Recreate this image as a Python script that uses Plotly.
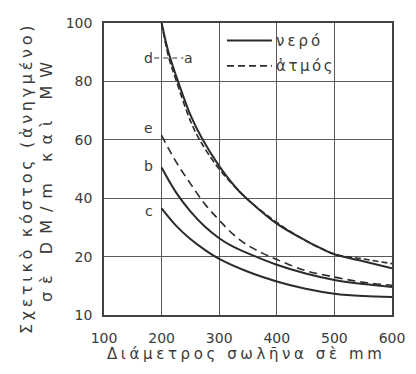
import plotly.graph_objects as go

# ---- data ----
x_d = [200, 212, 225, 250, 270, 300, 335, 350, 400, 450, 478, 500, 550, 600]
y_d = [100, 90, 82, 68.5, 60.5, 51, 42.3, 39.5, 31.3, 25.5, 22.7, 20.8, 19.2, 18.0]

x_a = [200, 212, 225, 250, 266, 300, 350, 400, 450, 500, 550, 600]
y_a = [100, 88.5, 80.5, 66.5, 60, 50, 39.5, 31.7, 25.5, 20.9, 19.6, 18.8]

x_e = [200, 225, 250, 275, 300, 325, 350, 375, 400, 450, 500, 550, 600]
y_e = [61.5, 52.5, 45, 38, 32.5, 27.5, 23.8, 21.2, 19.5, 17.6, 16.5, 15.6, 15.1]

x_b = [200, 225, 250, 275, 300, 325, 350, 400, 450, 500, 550, 600]
y_b = [50.5, 42, 35.5, 30.3, 26.3, 23.3, 21.1, 18.6, 17.1, 16, 15.3, 14.8]

x_c = [200, 225, 250, 275, 300, 350, 400, 450, 500, 550, 600]
y_c = [36.5, 30.6, 26, 22.3, 19.6, 17.4, 15.75, 14.5, 13.65, 13.25, 13.1]

x_ticks = [100, 200, 300, 400, 500, 600]
y_ticks = [10, 20, 40, 60, 80, 100]

curve_labels = ["d", "a", "e", "b", "c"]
label_x = [178, 247, 178, 178, 178]
label_y = [88, 88, 64, 51, 35.5]


# The printed axis gives the 10-20 interval the same height as 20-40
def ypos(v):
    return v if v >= 20 else 20 - (20 - v) * 2


def tr(vals):
    return [ypos(v) for v in vals]


INK = "#2b2b2b"
GRID = "#5a5a5a"
TXT = "#3a3a3a"
FONT = "DejaVu Sans"

fig = go.Figure()
fig.add_trace(go.Scatter(x=x_d, y=tr(y_d), mode="lines", line=dict(color=INK, width=2, shape="spline"), name="d"))
fig.add_trace(go.Scatter(x=x_a, y=tr(y_a), mode="lines", line=dict(color=INK, width=1.6, dash="6px,3px", shape="spline"), name="a"))
fig.add_trace(go.Scatter(x=x_e, y=tr(y_e), mode="lines", line=dict(color=INK, width=1.6, dash="8px,5px", shape="spline"), name="e"))
fig.add_trace(go.Scatter(x=x_b, y=tr(y_b), mode="lines", line=dict(color=INK, width=2, shape="spline"), name="b"))
fig.add_trace(go.Scatter(x=x_c, y=tr(y_c), mode="lines", line=dict(color=INK, width=2, shape="spline"), name="c"))

ann = []
for t, lx, ly in zip(curve_labels, label_x, label_y):
    ann.append(dict(x=lx, y=ypos(ly), xref="x", yref="y", text=t, showarrow=False,
                    font=dict(family=FONT, size=14, color=TXT)))


def spaced(s, px):
    return '<span style="letter-spacing:%spx">%s</span>' % (px, s)


# axis titles
ann.append(dict(x=-0.235, y=0.47, xref="paper", yref="paper", textangle=-90,
                text=spaced("Σχετικὸ κόστος (ἀνηγμένο)", 3.7) + "<br>" + spaced("σὲ DM/m καὶ MW", 8),
                showarrow=False, xanchor="center", yanchor="middle",
                font=dict(family=FONT, size=16, color=TXT)))
ann.append(dict(x=0.493, y=-0.135, xref="paper", yref="paper",
                text=spaced("Διάμετρος σωλῆνα σὲ mm", 3.6),
                showarrow=False, xanchor="center", yanchor="middle",
                font=dict(family=FONT, size=15, color=TXT)))

# legend (drawn as a key in the upper right cell)
ann.append(dict(x=0.592, y=0.94, xref="paper", yref="paper", text=spaced("νερό", 3),
                showarrow=False, xanchor="left", yanchor="middle", font=dict(family=FONT, size=15, color=TXT)))
ann.append(dict(x=0.592, y=0.853, xref="paper", yref="paper", text=spaced("ἀτμός", 2.5),
                showarrow=False, xanchor="left", yanchor="middle", font=dict(family=FONT, size=15, color=TXT)))

shapes = [
    dict(type="line", xref="paper", yref="paper", x0=0.427, x1=0.583, y0=0.94, y1=0.94,
         line=dict(color=INK, width=1.8)),
    dict(type="line", xref="paper", yref="paper", x0=0.427, x1=0.583, y0=0.853, y1=0.853,
         line=dict(color=INK, width=1.6, dash="7px,4px")),
    # leader between labels d and a
    dict(type="line", xref="x", yref="y", x0=187, x1=238, y0=88, y1=88,
         line=dict(color=TXT, width=1, dash="5px,4px"), layer="above"),
]

# the page body has an 8px margin, so the figure is sized to end at the window edge
fig.update_layout(
    width=408, height=366, autosize=False,
    margin=dict(l=96, r=24, t=7, b=59),
    paper_bgcolor="white", plot_bgcolor="white",
    showlegend=False,
    annotations=ann, shapes=shapes,
    xaxis=dict(range=[100, 600], tickvals=x_ticks, ticktext=[str(v) for v in x_ticks],
               showgrid=True, gridcolor=GRID, gridwidth=1.2, zeroline=False,
               showline=True, mirror=True, linecolor="#444", linewidth=1.6,
               ticks="", ticklabelstandoff=9, tickfont=dict(family=FONT, size=14, color=TXT)),
    yaxis=dict(range=[0, 100], tickvals=[ypos(v) for v in y_ticks], ticktext=[str(v) for v in y_ticks],
               showgrid=True, gridcolor=GRID, gridwidth=1.2, zeroline=False,
               showline=True, mirror=True, linecolor="#444", linewidth=1.6,
               ticks="", ticklabelstandoff=7, tickfont=dict(family=FONT, size=14, color=TXT)),
)

fig.write_html("out.html")
